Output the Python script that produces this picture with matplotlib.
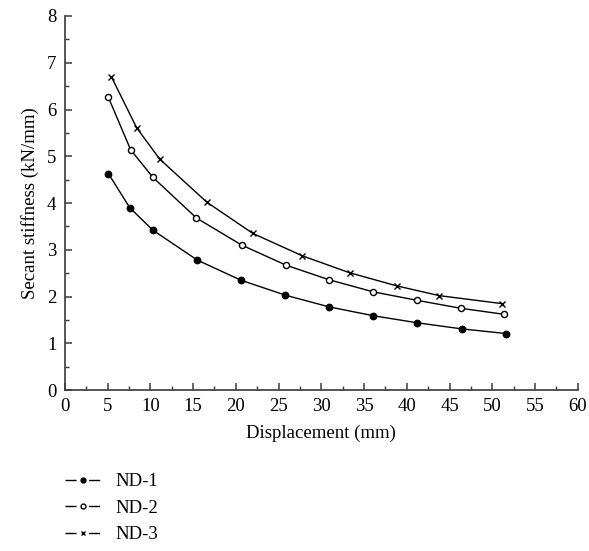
import matplotlib.pyplot as plt
from matplotlib.lines import Line2D
from matplotlib.ticker import MultipleLocator

plt.rcParams["font.family"] = ["Liberation Serif", "DejaVu Serif"]
plt.rcParams["lines.scale_dashes"] = False

# secant stiffness vs displacement for the three specimens
nd1_disp = [5.1, 7.6, 10.3, 15.5, 20.6, 25.8, 30.9, 36.1, 41.2, 46.4, 51.6]
nd1_stiff = [4.63, 3.90, 3.42, 2.78, 2.35, 2.03, 1.78, 1.59, 1.44, 1.31, 1.21]

nd2_disp = [5.1, 7.7, 10.3, 15.4, 20.7, 25.9, 30.9, 36.1, 41.2, 46.3, 51.4]
nd2_stiff = [6.26, 5.14, 4.55, 3.68, 3.10, 2.67, 2.36, 2.10, 1.92, 1.75, 1.62]

nd3_disp = [5.45, 8.4, 11.1, 16.6, 22.0, 27.8, 33.3, 38.8, 43.8, 51.1]
nd3_stiff = [6.70, 5.61, 4.94, 4.02, 3.35, 2.87, 2.51, 2.23, 2.02, 1.85]

fig = plt.figure(figsize=(5.89, 5.51), dpi=100)
ax = fig.add_axes([0.110, 0.292, 0.871, 0.679])

line_kw = dict(color="black", lw=1.0)
ax.plot(nd1_disp, nd1_stiff, marker="o", ms=4.6, mfc="black", mec="black", **line_kw)
ax.plot(nd2_disp, nd2_stiff, marker="o", ms=4.4, mfc="white", mec="black", mew=1.0, **line_kw)
ax.plot(nd3_disp, nd3_stiff, marker="x", ms=4.8, mec="black", mew=1.0, **line_kw)

ax.set_xlim(0, 60)
ax.set_ylim(0, 8)
ax.xaxis.set_major_locator(MultipleLocator(5))
ax.xaxis.set_minor_locator(MultipleLocator(2.5))
ax.yaxis.set_major_locator(MultipleLocator(1))
ax.yaxis.set_minor_locator(MultipleLocator(0.5))

for side in ["top", "right"]:
    ax.spines[side].set_visible(False)
for side in ["left", "bottom"]:
    ax.spines[side].set_linewidth(1.2)
    ax.spines[side].set_color("#3a3a3a")

ax.tick_params(which="major", direction="in", length=5, width=1.1,
               color="#3a3a3a", labelsize=13.5, pad=6)
ax.tick_params(which="minor", direction="in", length=3, width=1.0, color="#3a3a3a")

ax.set_xlabel("Displacement (mm)", fontsize=13.5, labelpad=7)
ax.set_ylabel("Secant stiffness (kN/mm)", fontsize=13.5, labelpad=6)

# legend handles: short line pieces broken around the marker
dash = (0, (8, 9, 8))
handles = [
    Line2D([], [], color="black", lw=1.0, ls=dash, marker="o", ms=3.5, mfc="black", mec="black"),
    Line2D([], [], color="black", lw=1.0, ls=dash, marker="o", ms=3.5, mfc="white", mec="black"),
    Line2D([], [], color="black", lw=1.0, ls=dash, marker="x", ms=3.5, mec="black"),
]
fig.legend(handles, ["ND-1", "ND-2", "ND-3"], loc="upper left",
           bbox_to_anchor=(65 / 589, 1 - 473 / 551), frameon=False,
           fontsize=13.5, handlelength=1.95, handletextpad=0.75,
           labelspacing=0.5, borderpad=0, borderaxespad=0)

fig.savefig("out.png", dpi=100)
